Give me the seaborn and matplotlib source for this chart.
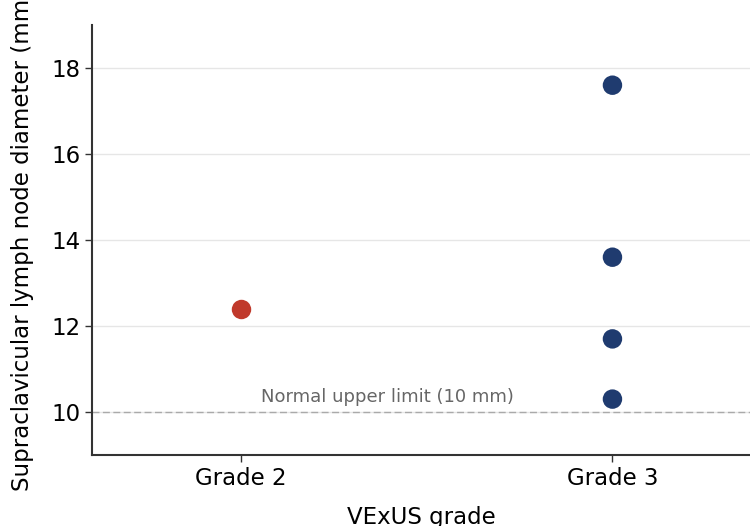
import matplotlib
matplotlib.use("Agg")
import matplotlib.pyplot as plt
import seaborn as sns
import pandas as pd

grades = ["Grade 2", "Grade 3", "Grade 3", "Grade 3", "Grade 3"]
diameters = [12.4, 17.6, 13.6, 11.7, 10.3]
palette = {"Grade 2": "#C0392B", "Grade 3": "#1F3B6F"}
order = ["Grade 2", "Grade 3"]
yticks = [10, 12, 14, 16, 18]

df = pd.DataFrame({"grade": grades, "diameter": diameters})

sns.set_style("white")
plt.rcParams["font.family"] = ["DejaVu Sans"]

fig = plt.figure(figsize=(7.5, 5.26), dpi=100)
ax = fig.add_axes([92/750, 71/526, 1 - 92/750, (455-25)/526])

sns.stripplot(data=df, x="grade", y="diameter", hue="grade", order=order,
              palette=palette, jitter=False, size=14, linewidth=0,
              legend=False, ax=ax, zorder=3)

ax.axhline(10, color="#AAAAAA", linestyle=(0, (5, 2.5)), linewidth=1, zorder=1)
ax.text(0.055, 10.15, "Normal upper limit (10 mm)", color="#666666",
        fontsize=13, ha="left", va="bottom")

ax.set_ylim(9, 19)
ax.set_xlim(-0.4, 1.37)
ax.set_yticks(yticks)
ax.yaxis.grid(True, color="#E6E6E6", linewidth=1)
ax.set_axisbelow(True)

for s in ["top", "right"]:
    ax.spines[s].set_visible(False)
for s in ["left", "bottom"]:
    ax.spines[s].set_color("#333333")
    ax.spines[s].set_linewidth(1.5)

ax.tick_params(axis="both", labelsize=16.5, length=5, width=1, color="#333333",
               labelcolor="black", left=True, bottom=True)
ax.set_xlabel("VExUS grade", fontsize=16.5, labelpad=12, color="black")
ax.set_ylabel("Supraclavicular lymph node diameter (mm)", fontsize=16.5,
              labelpad=12, color="black")

fig.savefig("out.png", dpi=100)
